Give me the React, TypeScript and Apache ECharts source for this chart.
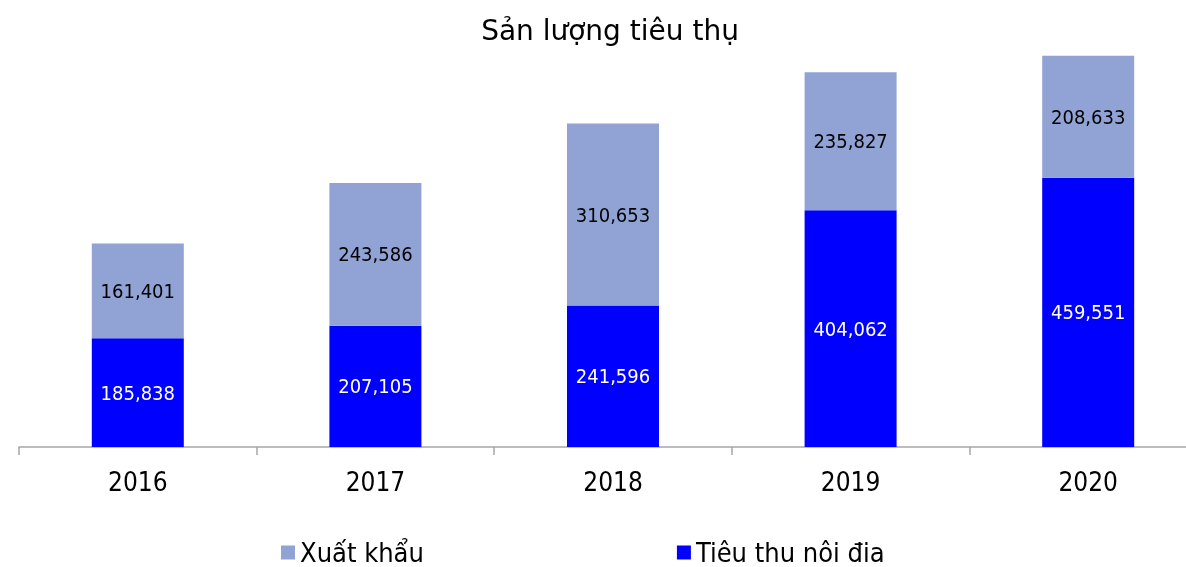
import React, { useEffect, useRef } from "react";
import * as echarts from "echarts";

const categories = ["2016", "2017", "2018", "2019", "2020"];
const domestic = [185838, 207105, 241596, 404062, 459551];
const exports = [161401, 243586, 310653, 235827, 208633];

const FONT = "'DejaVu Sans Condensed', 'DejaVu Sans', sans-serif";
const FONT_REG = "'DejaVu Sans', sans-serif";

export default function App() {
  const ref = useRef<HTMLDivElement>(null);
  useEffect(() => {
    const chart = echarts.init(ref.current!, null, { renderer: "svg" });
    const fmt = (p: any) => Number(p.value).toLocaleString("en-US");
    chart.setOption({
      animation: false,
      textStyle: { fontFamily: FONT },
      title: {
        text: "Sản lượng tiêu thụ",
        left: 610,
        top: 16,
        padding: 0,
        textAlign: "center",
        textStyle: { fontFamily: FONT_REG, fontSize: 28, fontWeight: "normal", color: "#000" },
      },
      legend: {
        left: 281,
        top: 539,
        padding: 0,
        itemWidth: 14,
        itemHeight: 14,
        itemGap: 253,
        icon: "rect",
        textStyle: { fontFamily: FONT, fontSize: 27, color: "#000" },
        data: ["Xuất khẩu", "Tiêu thu nôi đia"],
      },
      grid: { left: 19, right: 23, top: 37, bottom: 120 },
      xAxis: {
        type: "category",
        data: categories,
        axisLine: { lineStyle: { color: "#a6a6a6", width: 1.5 } },
        axisTick: { show: true, length: 8, lineStyle: { color: "#a6a6a6", width: 1.5 } },
        axisLabel: { fontFamily: FONT, fontSize: 26, color: "#000", margin: 22 },
      },
      yAxis: { type: "value", min: 0, max: 700000, show: false, splitLine: { show: false } },
      series: [
        {
          name: "Tiêu thu nôi đia",
          type: "bar",
          stack: "total",
          data: domestic,
          barWidth: 92,
          itemStyle: { color: "#0000ff" },
          label: { show: true, position: "inside", formatter: fmt, color: "#fff", fontFamily: FONT, fontSize: 20 },
        },
        {
          name: "Xuất khẩu",
          type: "bar",
          stack: "total",
          data: exports,
          barWidth: 92,
          itemStyle: { color: "#91a3d5" },
          label: { show: true, position: "inside", formatter: fmt, color: "#000", fontFamily: FONT, fontSize: 20 },
        },
      ],
    });
    return () => chart.dispose();
  }, []);
  return (
    <div
      ref={ref}
      style={{ position: "fixed", left: 0, top: 0, width: 1230, height: 567 }}
    />
  );
}
